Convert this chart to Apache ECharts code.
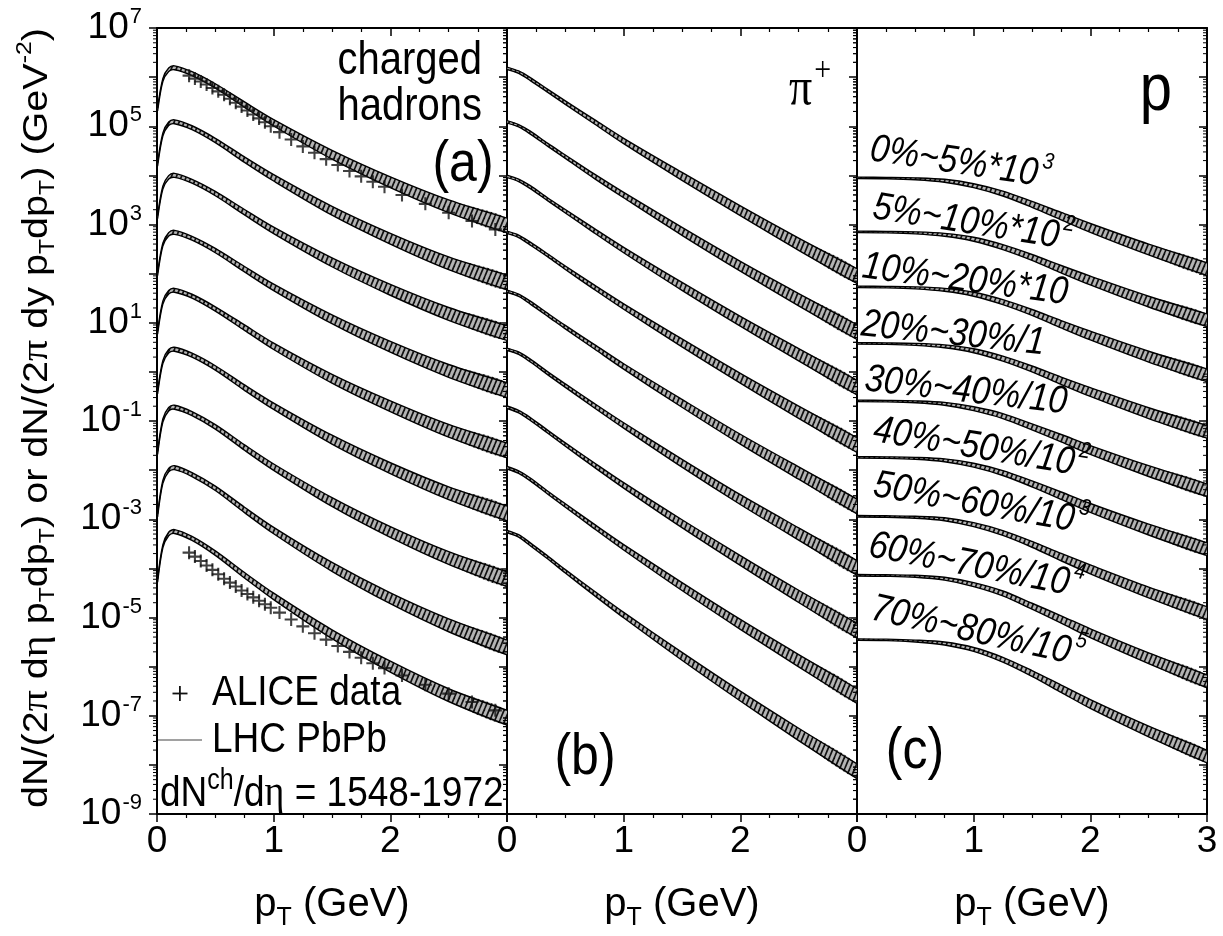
<!DOCTYPE html>
<html>
<head>
<meta charset="utf-8">
<script src="https://cdn.jsdelivr.net/npm/echarts@6/dist/echarts.min.js"></script>
<style>
  html, body { margin: 0; padding: 0; background: #fff; }
  #chart { width: 1223px; height: 936px; }
</style>
</head>
<body>
<div id="chart"></div>
<script>
// pT grids (GeV) used for each panel
var ptA = [0.005, 0.05, 0.1, 0.15, 0.3, 0.5, 0.75, 1.0, 1.5, 2.0, 2.5, 3.0];
var ptB = [0, 0.1, 0.2, 0.35, 0.5, 0.75, 1.0, 1.5, 2.0, 2.5, 3.0];
var ptC = [0, 0.25, 0.5, 0.75, 1.0, 1.25, 1.5, 1.75, 2.0, 2.5, 3.0];

// band centres, as log10 of the yield, one row per centrality class (0-5% first)
var hadronExp = [
  [5.34, 5.94, 6.15, 6.19, 6.07, 5.82, 5.44, 5.07, 4.42, 3.86, 3.37, 2.98],
  [4.22, 4.83, 5.05, 5.09, 4.97, 4.71, 4.32, 3.95, 3.28, 2.71, 2.21, 1.82],
  [3.15, 3.75, 3.96, 4.00, 3.88, 3.63, 3.25, 2.88, 2.23, 1.67, 1.18, 0.79],
  [1.99, 2.59, 2.80, 2.84, 2.72, 2.47, 2.09, 1.72, 1.07, 0.51, 0.02, -0.37],
  [0.80, 1.41, 1.62, 1.66, 1.54, 1.28, 0.90, 0.52, -0.14, -0.70, -1.20, -1.60],
  [-0.42, 0.20, 0.42, 0.46, 0.34, 0.08, -0.32, -0.70, -1.38, -1.96, -2.47, -2.88],
  [-1.65, -0.99, -0.76, -0.72, -0.85, -1.12, -1.54, -1.94, -2.65, -3.26, -3.79, -4.22],
  [-2.92, -2.24, -2.00, -1.95, -2.09, -2.37, -2.81, -3.23, -3.97, -4.61, -5.16, -5.61],
  [-4.25, -3.55, -3.30, -3.25, -3.39, -3.69, -4.14, -4.57, -5.34, -6.00, -6.58, -7.04]
];
var hadronHalf = [0.03, 0.03, 0.035, 0.04, 0.04, 0.045, 0.055, 0.065, 0.09, 0.11, 0.13, 0.15];

var pionExp = [
  [6.18, 6.10, 5.96, 5.72, 5.48, 5.09, 4.70, 3.98, 3.28, 2.60, 1.95],
  [5.09, 5.01, 4.87, 4.62, 4.38, 3.98, 3.60, 2.86, 2.15, 1.47, 0.81],
  [3.98, 3.90, 3.76, 3.51, 3.27, 2.87, 2.48, 1.74, 1.03, 0.35, -0.32],
  [2.84, 2.76, 2.61, 2.37, 2.12, 1.72, 1.33, 0.59, -0.13, -0.82, -1.49],
  [1.64, 1.56, 1.41, 1.16, 0.91, 0.51, 0.11, -0.64, -1.37, -2.06, -2.74],
  [0.46, 0.38, 0.23, -0.03, -0.28, -0.69, -1.09, -1.86, -2.60, -3.30, -3.99],
  [-0.72, -0.81, -0.96, -1.22, -1.48, -1.90, -2.31, -3.09, -3.84, -4.57, -5.27],
  [-1.95, -2.04, -2.19, -2.46, -2.72, -3.15, -3.57, -4.37, -5.14, -5.88, -6.60],
  [-3.25, -3.34, -3.51, -3.78, -4.06, -4.51, -4.95, -5.79, -6.60, -7.38, -8.13]
];
var pionHalf = [0.025, 0.025, 0.03, 0.03, 0.035, 0.045, 0.055, 0.08, 0.1, 0.125, 0.15];

var protonExp = [
  [3.95, 3.945, 3.93, 3.89, 3.79, 3.63, 3.41, 3.17, 2.93, 2.49, 2.09],
  [2.85, 2.845, 2.83, 2.79, 2.70, 2.54, 2.33, 2.09, 1.86, 1.43, 1.05],
  [1.73, 1.725, 1.71, 1.67, 1.58, 1.42, 1.21, 0.97, 0.74, 0.31, -0.07],
  [0.58, 0.575, 0.56, 0.52, 0.43, 0.27, 0.06, -0.18, -0.41, -0.84, -1.22],
  [-0.59, -0.595, -0.61, -0.65, -0.75, -0.90, -1.12, -1.35, -1.59, -2.02, -2.41],
  [-1.74, -1.745, -1.76, -1.80, -1.90, -2.06, -2.28, -2.52, -2.77, -3.21, -3.61],
  [-2.94, -2.945, -2.96, -3.00, -3.11, -3.28, -3.51, -3.77, -4.02, -4.49, -4.91],
  [-4.14, -4.146, -4.16, -4.21, -4.33, -4.51, -4.77, -5.04, -5.32, -5.83, -6.30],
  [-5.45, -5.456, -5.48, -5.53, -5.65, -5.86, -6.14, -6.45, -6.76, -7.32, -7.83]
];
var protonHalf = [0.015, 0.015, 0.02, 0.03, 0.04, 0.05, 0.06, 0.075, 0.09, 0.11, 0.13];

// ALICE charged hadron points (0-5% and 70-80%), log10 of the yield
var alicePt = [0.275, 0.325, 0.375, 0.425, 0.475, 0.525, 0.575, 0.625, 0.675, 0.725,
  0.775, 0.825, 0.875, 0.925, 0.975, 1.05, 1.15, 1.25, 1.35, 1.45,
  1.55, 1.65, 1.75, 1.85, 1.95, 2.1, 2.3, 2.5, 2.7, 2.9];
var aliceTopExp = [6.03, 5.97, 5.91, 5.85, 5.78, 5.71, 5.64, 5.56, 5.48, 5.40,
  5.32, 5.24, 5.16, 5.08, 5.00, 4.88, 4.73, 4.59, 4.46, 4.33,
  4.21, 4.09, 3.98, 3.87, 3.77, 3.60, 3.42, 3.24, 3.07, 2.90];
var aliceBotExp = [-3.68, -3.76, -3.85, -3.94, -4.03, -4.12, -4.21, -4.29, -4.37, -4.45,
  -4.52, -4.59, -4.66, -4.73, -4.80, -4.90, -5.04, -5.18, -5.32, -5.45,
  -5.58, -5.70, -5.82, -5.93, -6.03, -6.18, -6.37, -6.55, -6.72, -6.89];

var centLabels = [
  ['0%~5%*10', '3'], ['5%~10%*10', '2'], ['10%~20%*10', ''], ['20%~30%/1', ''],
  ['30%~40%/10', ''], ['40%~50%/10', '2'], ['50%~60%/10', '3'], ['60%~70%/10', '4'],
  ['70%~80%/10', '5']
];

var SANS = '"Liberation Sans", Arial, sans-serif';
var SERIF = '"Liberation Serif", "DejaVu Serif", serif';
var STRETCH = 1.15;

function hatch() {
  var c = document.createElement('canvas');
  c.width = 5; c.height = 12;
  var g = c.getContext('2d');
  g.fillStyle = '#b4b4b4';
  g.fillRect(0, 0, 5, 12);
  g.strokeStyle = '#111';
  g.lineWidth = 1.7;
  for (var k = -1; k <= 1; k++) {
    g.beginPath();
    g.moveTo(k * 5, 12);
    g.lineTo(k * 5 + 5, 0);
    g.stroke();
  }
  return c;
}
var hatchFill = { image: hatch(), repeat: 'repeat' };

function bandSeries(name, idx, pts, rows, half) {
  return {
    name: name,
    type: 'custom',
    xAxisIndex: idx,
    yAxisIndex: idx,
    clip: true,
    silent: true,
    z: 2,
    data: rows.map(function (r, i) { return [0, 1, i]; }),
    encode: { x: 0, y: 1 },
    renderItem: function (params, api) {
      var row = rows[api.value(2)];
      var top = [], bot = [];
      for (var i = 0; i < pts.length; i++) {
        top.push(api.coord([pts[i], Math.pow(10, row[i] + half[i])]));
        bot.push(api.coord([pts[i], Math.pow(10, row[i] - half[i])]));
      }
      var line = { stroke: '#000', lineWidth: 1.4, fill: null };
      return {
        type: 'group',
        children: [
          { type: 'polygon', shape: { points: top.concat(bot.slice().reverse()), smooth: 0.3 },
            style: { fill: hatchFill, stroke: null } },
          { type: 'polyline', shape: { points: top, smooth: 0.3 }, style: line },
          { type: 'polyline', shape: { points: bot, smooth: 0.3 }, style: line }
        ]
      };
    }
  };
}

// minor ticks of the log axis at 2..9 x 10^k
var minorVals = [];
for (var k = -9; k < 7; k++) {
  for (var m = 2; m < 10; m++) minorVals.push(m * Math.pow(10, k));
}
function minorTickSeries(idx) {
  return {
    type: 'custom',
    xAxisIndex: idx,
    yAxisIndex: idx,
    clip: false,
    silent: true,
    z: 5,
    data: minorVals.map(function (v) { return [0, v]; }),
    encode: { x: 0, y: 1 },
    renderItem: function (params, api) {
      var l = api.coord([0, api.value(1)]);
      var r = api.coord([3, api.value(1)]);
      var st = { stroke: '#000', lineWidth: 1 };
      return {
        type: 'group',
        children: [
          { type: 'line', shape: { x1: l[0] - 4, y1: l[1], x2: l[0], y2: l[1] }, style: st },
          { type: 'line', shape: { x1: r[0] - 4, y1: r[1], x2: r[0], y2: r[1] }, style: st }
        ]
      };
    }
  };
}

function xBottom(idx, showThree) {
  return {
    type: 'value', gridIndex: idx, position: 'bottom', min: 0, max: 3, interval: 1,
    axisLine: { show: true, onZero: false, lineStyle: { color: '#000', width: 2 } },
    axisTick: { show: true, inside: false, length: 8, lineStyle: { color: '#000', width: 1.5 } },
    minorTick: { show: true, splitNumber: 4, length: 4, lineStyle: { color: '#000', width: 1.2 } },
    splitLine: { show: false },
    axisLabel: {
      margin: 9, color: '#000', fontSize: 37, fontFamily: SANS,
      formatter: function (v) { return (v === 3 && !showThree) ? '' : String(v); }
    },
    name: '{a|p}{s|T}{a| (GeV)}',
    nameLocation: 'middle',
    nameGap: 64,
    nameTextStyle: {
      rich: {
        a: { fontSize: 40, fontFamily: SANS, color: '#000' },
        s: { fontSize: 25, fontFamily: SANS, color: '#000', padding: [28, 0, 0, 0] }
      }
    }
  };
}
function xTop(idx) {
  return {
    type: 'value', gridIndex: idx, position: 'top', min: 0, max: 3, interval: 1,
    axisLine: { show: true, onZero: false, lineStyle: { color: '#000', width: 2 } },
    axisTick: { show: true, inside: true, length: 8, lineStyle: { color: '#000', width: 1.5 } },
    minorTick: { show: true, splitNumber: 4, length: 4, lineStyle: { color: '#000', width: 1.2 } },
    splitLine: { show: false },
    axisLabel: { show: false }
  };
}
function yAxis(idx, side, labels) {
  return {
    type: 'log', logBase: 10, gridIndex: idx, position: side, min: 1e-9, max: 1e7, interval: 1,
    axisLine: { show: true, onZero: false, lineStyle: { color: '#000', width: 2 } },
    axisTick: { show: true, inside: side === 'right', length: 8, lineStyle: { color: '#000', width: 1.5 } },
    splitLine: { show: false },
    axisLabel: {
      show: labels, interval: 0, margin: 15, color: '#000',
      formatter: function (v) {
        var e = Math.round(Math.log10(v));
        if (Math.abs(e) % 2 === 0) return '';
        return '{b|10}{s|' + e + '}';
      },
      rich: {
        b: { fontSize: 37, fontFamily: SANS, color: '#000' },
        s: { fontSize: 22, fontFamily: SANS, color: '#000', padding: [0, 0, 22, 1] }
      }
    }
  };
}

var labelPos = [
  [961, 163, -8.7], [973, 223, -9], [965, 280, -7.5], [953, 334, -6],
  [966, 391, -6.5], [981, 448, -9.5], [981, 504, -10], [976, 566, -11], [978, 632, -12.5]
];

var graphics = [];
centLabels.forEach(function (l, i) {
  var p = labelPos[i];
  graphics.push({
    type: 'text', x: p[0], y: p[1], rotation: p[2] * Math.PI / 180, scaleY: STRETCH, z: 10,
    style: {
      text: '{t|' + l[0] + '}' + (l[1] ? '{s|' + l[1] + '}' : ''),
      align: 'center', verticalAlign: 'middle',
      rich: {
        t: { fontSize: 34, fontStyle: 'italic', fontFamily: SANS, fill: '#000' },
        s: { fontSize: 20, fontStyle: 'italic', fontFamily: SANS, fill: '#000', padding: [0, 0, 24, 3] }
      }
    }
  });
});

function label(text, size, x, y, align) {
  return {
    type: 'text', x: x, y: y, scaleY: STRETCH, z: 10,
    style: { text: text, fontSize: size, fontFamily: SANS, fill: '#000',
      align: align, verticalAlign: 'middle' }
  };
}

graphics.push(
  {
    type: 'text', x: 37, y: 418, rotation: Math.PI / 2, scaleX: 1.13, z: 10,
    style: {
      text: '{r|dN/(2}{g|π}{r| d}{g|η}{r| p}{d|T}{r|dp}{d|T}{r|) or dN/(2}{g|π}{r| dy p}{d|T}{r|dp}{d|T}{r|) (GeV}{u|-2}{r|)}',
      align: 'center', verticalAlign: 'middle',
      rich: {
        r: { fontSize: 35, fontFamily: SANS, fill: '#000' },
        g: { fontSize: 37, fontFamily: SERIF, fill: '#000' },
        d: { fontSize: 22, fontFamily: SANS, fill: '#000', padding: [22, 0, 0, 0] },
        u: { fontSize: 22, fontFamily: SANS, fill: '#000', padding: [0, 0, 24, 0] }
      }
    }
  },
  label('charged', 40, 482, 61, 'right'),
  label('hadrons', 40, 482, 107, 'right'),
  label('(a)', 50, 463, 165, 'center'),
  label('(b)', 50, 585, 758, 'center'),
  label('(c)', 50, 915, 752, 'center'),
  label('p', 58, 1156, 92, 'center'),
  {
    type: 'text', x: 810, y: 90, scaleY: STRETCH, z: 10,
    style: {
      text: '{g|π}{u|+}', align: 'center', verticalAlign: 'middle',
      rich: {
        g: { fontSize: 46, fontFamily: SERIF, fill: '#000' },
        u: { fontSize: 30, fontFamily: SERIF, fill: '#000', padding: [0, 0, 34, 2] }
      }
    }
  },
  // legend
  { type: 'rect', z: 10, shape: { x: 179, y: 686, width: 1.8, height: 15 }, style: { fill: '#111' } },
  { type: 'rect', z: 10, shape: { x: 172.5, y: 692.6, width: 15, height: 1.8 }, style: { fill: '#111' } },
  label('ALICE data', 37, 212, 693, 'left'),
  { type: 'line', z: 10, shape: { x1: 158, y1: 740, x2: 202, y2: 740 }, style: { stroke: '#444', lineWidth: 1.2 } },
  label('LHC PbPb', 37, 212, 740, 'left'),
  {
    type: 'text', x: 160, y: 794, scaleY: STRETCH, z: 10,
    style: {
      text: '{r|dN}{u|ch}{r|/d}{g|η}{r| = 1548-1972}', align: 'left', verticalAlign: 'middle',
      rich: {
        r: { fontSize: 37, fontFamily: SANS, fill: '#000' },
        g: { fontSize: 38, fontFamily: SERIF, fill: '#000' },
        u: { fontSize: 25, fontFamily: SANS, fill: '#000', padding: [0, 0, 22, 0] }
      }
    }
  }
);

function toPairs(xs, exps) {
  return xs.map(function (x, i) { return [x, Math.pow(10, exps[i])]; });
}
var crossSymbol = 'path://M4.2,0h1.6v10h-1.6zM0,4.2h10v1.6h-10z';
function aliceSeries(exps) {
  return {
    name: 'ALICE data', type: 'scatter', xAxisIndex: 0, yAxisIndex: 0, z: 4,
    symbol: crossSymbol, symbolSize: 13, silent: true,
    itemStyle: { color: '#111' },
    data: toPairs(alicePt, exps)
  };
}

var chart = echarts.init(document.getElementById('chart'));
chart.setOption({
  animation: false,
  backgroundColor: '#fff',
  grid: [
    { left: 157, top: 28, width: 350, height: 788 },
    { left: 507, top: 28, width: 350, height: 788 },
    { left: 857, top: 28, width: 350, height: 788 }
  ],
  xAxis: [xBottom(0, false), xBottom(1, false), xBottom(2, true), xTop(0), xTop(1), xTop(2)],
  yAxis: [yAxis(0, 'left', true), yAxis(1, 'left', false), yAxis(2, 'left', false),
          yAxis(0, 'right', false), yAxis(1, 'right', false), yAxis(2, 'right', false)],
  series: [
    bandSeries('LHC PbPb', 0, ptA, hadronExp, hadronHalf),
    bandSeries('pi+', 1, ptB, pionExp, pionHalf),
    bandSeries('p', 2, ptC, protonExp, protonHalf),
    aliceSeries(aliceTopExp),
    aliceSeries(aliceBotExp),
    minorTickSeries(0),
    minorTickSeries(1),
    minorTickSeries(2)
  ],
  graphic: graphics
});
</script>
</body>
</html>
